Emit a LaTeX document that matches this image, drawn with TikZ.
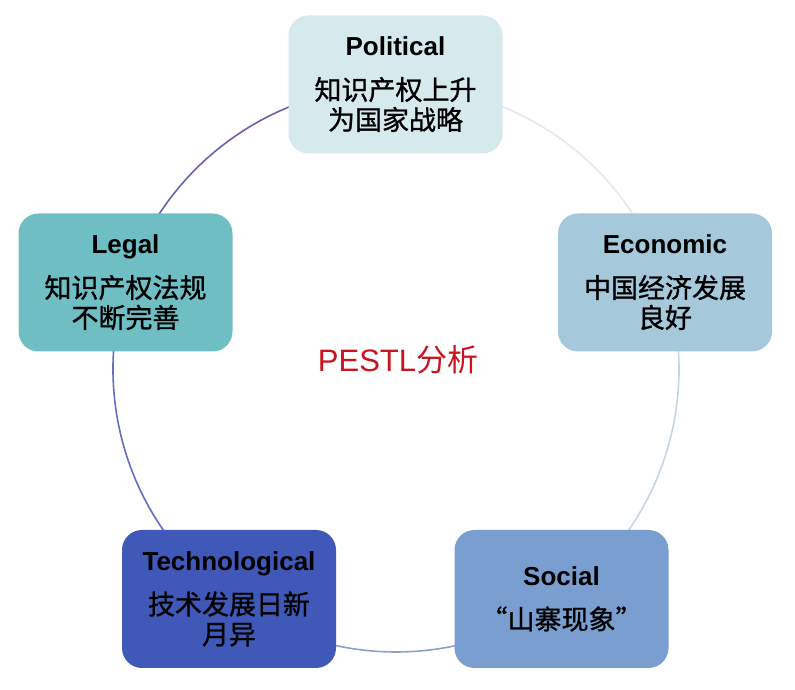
\documentclass[tikz,border=0pt]{standalone}
\usepackage{fontspec}
\setmainfont{Liberation Sans}
\newfontfamily\en{Liberation Sans}
\newfontfamily\zh{Noto Sans CJK SC}[FakeBold=1]
\newfontfamily\zhr{Noto Sans CJK SC}
\definecolor{cPol}{RGB}{214,234,238}
\definecolor{cEco}{RGB}{165,200,218}
\definecolor{cSoc}{RGB}{122,158,207}
\definecolor{cTec}{RGB}{64,88,184}
\definecolor{cLeg}{RGB}{110,190,196}
\definecolor{cRed}{RGB}{200,20,30}
\definecolor{aLP}{RGB}{100,100,175}
\definecolor{aPE}{RGB}{226,234,239}
\definecolor{aES}{RGB}{200,214,224}
\definecolor{aST}{RGB}{140,160,205}
\definecolor{aTL}{RGB}{100,110,195}
\tikzset{
  pbox/.style={rounded corners=20pt, minimum width=214pt, minimum height=138pt,
    align=center, inner sep=0pt, text=black,
    font=\zh\fontsize{27}{30}\selectfont},
  ring/.style={line width=1.6pt},
}
\newcommand{\entitle}[1]{{\en\bfseries\fontsize{26}{30}\selectfont #1}}
\begin{document}
\begin{tikzpicture}[x=1pt,y=1pt]
\useasboundingbox (0,0) rectangle (795,690);
\fill[white] (0,0) rectangle (795,690);
\coordinate (c) at (396,321);
\draw[ring,aPE] (c) ++(90:283pt) arc[start angle=90,end angle=18,radius=283pt];
\draw[ring,aES] (c) ++(18:283pt) arc[start angle=18,end angle=-54,radius=283pt];
\draw[ring,aST] (c) ++(-54:283pt) arc[start angle=-54,end angle=-126,radius=283pt];
\draw[ring,aTL] (c) ++(-126:283pt) arc[start angle=-126,end angle=-198,radius=283pt];
\draw[ring,aLP] (c) ++(162:283pt) arc[start angle=162,end angle=90,radius=283pt];
\node[pbox,fill=cPol] (pol) at (395.5,605.5) {\entitle{Political}\\[14pt]知识产权上升\\为国家战略};
\node[pbox,fill=cEco] (eco) at (665,407.5) {\entitle{Economic}\\[14pt]中国经济发展\\良好};
\node[pbox,fill=cSoc] (soc) at (561.5,91) {\entitle{Social}\\[14pt]“山寨现象”};
\node[pbox,fill=cTec] (tec) at (229,91) {\entitle{Technological}\\[14pt]技术发展日新\\月异};
\node[pbox,fill=cLeg] (leg) at (125.5,407.5) {\entitle{Legal}\\[14pt]知识产权法规\\不断完善};
\node[text=cRed,inner sep=0pt,font=\fontsize{31}{36}\selectfont] (mid) at (398,330) {\en PESTL\zhr 分析};
\end{tikzpicture}
\end{document}
